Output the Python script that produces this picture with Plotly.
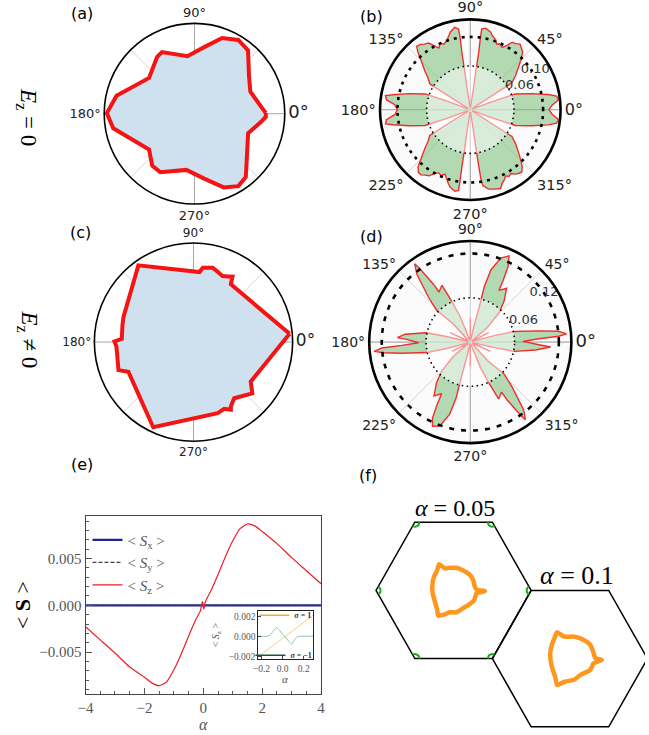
import plotly.graph_objects as go

W, H = 649, 735
def X(p): return p / W
def Y(p): return 1 - p / H

# ---------------- data ----------------
# (a) E_z = 0, normalised radius
a_theta = [0.5, 4, 21.6, 34.4, 49.8, 59.3, 70, 81.7, 97, 117.8, 123.3, 141.8, 167, 179.6, 190.2,
           218.2, 230.9, 239.7, 261.8, 278.5, 291.6, 301.2, 309, 340, 353, 357.4, 360.5]
a_r = [0.79, 0.757, 0.665, 0.732, 0.919, 0.95, 0.892, 0.745, 0.642, 0.772, 0.753, 0.64, 0.886, 0.971, 0.914,
       0.64, 0.742, 0.75, 0.629, 0.727, 0.878, 0.938, 0.903, 0.632, 0.743, 0.79, 0.79]

# (c) E_z != 0, normalised radius
c_theta = [4.9, 57.1, 58.5, 59.2, 62, 66.3, 70, 75.5, 80, 82.9, 85.1, 125.7, 160.5, 166.9, 177.4, 179.5,
           183, 186.2, 192.3, 200.5, 204.6, 244.7, 288.8, 294.7, 298.9, 300.1, 305.9, 318.9, 325.3, 364.9]
c_r = [0.973, 0.694, 0.74, 0.768, 0.75, 0.728, 0.745, 0.775, 0.762, 0.756, 0.709, 0.953, 0.75, 0.736, 0.724, 0.797,
       0.78, 0.778, 0.785, 0.808, 0.722, 0.951, 0.757, 0.741, 0.78, 0.751, 0.70, 0.787, 0.702, 0.973]

# (b) rose, E_z = 0
b_theta = [0, 3.2, 6.4, 8.9, 11, 14.7, 19.3, 20.5, 21.5,
           31.5, 32.8, 32.8, 37, 41.5, 45, 47.7, 52.8, 55.5, 58.2, 60.5, 63, 66, 68, 70, 73.4, 75.2, 79.3, 81.9, 82, 81.6, 81.9, 81.5, 84,
           96, 98.5, 98.2, 98.4, 98, 98.3, 100.8, 104.5, 106.5, 109, 112, 114.5, 117, 119.5, 122, 125, 127.5, 130.2, 132.5, 135.6, 139.5, 143.4, 147.5, 147.8, 148.5,
           158.5, 159.5, 160.7, 165.3, 169, 170.5, 173.2, 176.2, 180,
           183.8, 186.8, 189.5, 191, 194.7, 199.3, 200.5, 201.5,
           211.5, 212.2, 212.5, 216.6, 220.5, 224.4, 227.5, 230.5, 233, 235.5, 238, 241, 243.5, 246, 248.5, 251, 253.5, 255.5, 259.3, 261.7, 261.8, 261.6, 261.8, 261.5, 264,
           276, 278.5, 278.3, 278.5, 278.8, 279.5, 283, 287, 291, 293.5, 296, 298, 300, 302.5, 305, 307.5, 309.6, 312.3, 315, 318.5, 323, 327.2, 327.2, 328.5,
           338.5, 339.5, 340.7, 345.3, 349, 351.1, 353.6, 356.8, 360]
b_r = [0.108, 0.1125, 0.122, 0.120, 0.109, 0.087, 0.0655, 0.03, 0.004,
       0.004, 0.040, 0.068, 0.078, 0.0885, 0.099, 0.107, 0.113, 0.110, 0.109, 0.101, 0.096, 0.099, 0.097, 0.102, 0.106, 0.110, 0.114, 0.112, 0.100, 0.078, 0.055, 0.027, 0.004,
       0.004, 0.027, 0.055, 0.078, 0.100, 0.112, 0.115, 0.110, 0.105, 0.100, 0.097, 0.100, 0.095, 0.101, 0.108, 0.110, 0.113, 0.114, 0.106, 0.0935, 0.082, 0.072, 0.066, 0.040, 0.004,
       0.004, 0.03, 0.0655, 0.087, 0.108, 0.118, 0.116, 0.104, 0.100,
       0.104, 0.116, 0.118, 0.108, 0.087, 0.0655, 0.03, 0.004,
       0.004, 0.040, 0.066, 0.072, 0.082, 0.0935, 0.106, 0.112, 0.112, 0.109, 0.107, 0.100, 0.097, 0.099, 0.095, 0.100, 0.106, 0.110, 0.114, 0.112, 0.100, 0.078, 0.055, 0.027, 0.004,
       0.004, 0.027, 0.055, 0.078, 0.100, 0.106, 0.112, 0.114, 0.116, 0.110, 0.107, 0.103, 0.106, 0.104, 0.108, 0.110, 0.111, 0.106, 0.098, 0.0885, 0.078, 0.068, 0.040, 0.004,
       0.004, 0.03, 0.0655, 0.087, 0.109, 0.120, 0.122, 0.1125, 0.108]

# (d) rose, E_z != 0
d_theta = [-15, -13, -11.9, -6.9, -3.5, -2.2, 0.7, 2.75, 3.8, 4.9, 7, 9.3, 13.5, 15, 20,
           24, 27, 29,
           36, 40, 45.6, 50.5, 56, 61, 62, 63.5, 65.8, 70, 74, 75.8, 75.7, 77, 80,
           88, 90, 92,
           106, 111.8, 114.5, 116.5, 122, 122.5, 124.5, 125.4, 128.2, 133, 136.7, 132.9, 140,
           150, 155, 158,
           165, 167, 168.1, 173.1, 176.5, 177.8, 180.7, 182.75, 183.8, 185.5, 187, 189.3, 193.5, 195, 200,
           205, 207, 210,
           216, 220, 225.6, 230.5, 236, 241, 242, 243.5, 245.8, 250, 254, 255.8, 255.7, 257, 260,
           268, 270, 272,
           286, 291.8, 294.5, 296.5, 302, 302.5, 304.5, 305.4, 308.2, 313, 316.7, 312.9, 320,
           330, 335, 338,
           345]
d_r = [0.003, 0.035, 0.061, 0.089, 0.109, 0.093, 0.0714, 0.093, 0.120, 0.131, 0.120, 0.094, 0.061, 0.035, 0.003,
       0.004, 0.028, 0.004,
       0.004, 0.03, 0.056, 0.072, 0.088, 0.080, 0.095, 0.115, 0.128, 0.121, 0.102, 0.078, 0.0506, 0.02, 0.003,
       0.003, 0.033, 0.003,
       0.004, 0.038, 0.061, 0.086, 0.080, 0.093, 0.120, 0.130, 0.117, 0.083, 0.0625, 0.034, 0.004,
       0.004, 0.03, 0.004,
       0.003, 0.035, 0.061, 0.089, 0.099, 0.085, 0.070, 0.093, 0.120, 0.131, 0.118, 0.094, 0.061, 0.035, 0.003,
       0.004, 0.028, 0.004,
       0.004, 0.03, 0.056, 0.072, 0.088, 0.080, 0.095, 0.115, 0.125, 0.121, 0.102, 0.078, 0.0506, 0.02, 0.003,
       0.003, 0.033, 0.003,
       0.004, 0.038, 0.061, 0.086, 0.080, 0.093, 0.120, 0.129, 0.117, 0.083, 0.0625, 0.034, 0.004,
       0.004, 0.03, 0.004,
       0.003]

circ_theta = list(range(0, 361, 3))
b_rings = [0.06, 0.10]
d_rings = [0.06, 0.12]
main_axes_theta = [0, 180, None, 90, 270]
diag_axes_theta = [45, 225, None, 135, 315]

# (e) spin expectation values
alpha = [-4, -3.5, -3, -2.5, -2, -1.75, -1.5, -1.25, -1, -0.75, -0.5, -0.25, -0.1, -0.05, -0.02, 0.0,
         0.02, 0.05, 0.1, 0.25, 0.5, 0.75, 1, 1.25, 1.5, 1.75, 2, 2.5, 3, 3.5, 4]
sz = [-0.0023, -0.0037, -0.0051, -0.0066, -0.0077, -0.0083, -0.0086, -0.0082, -0.0069, -0.0052, -0.0033, -0.0015,
      -0.0006, 0.0002, 0.0004, -0.0002, -0.0004, 0.0002, 0.0006, 0.0015, 0.0033, 0.0052, 0.0069, 0.0082, 0.0087,
      0.0085, 0.0079, 0.0066, 0.0051, 0.0037, 0.0023]
alpha_flat = [-4, -2, 0, 2, 4]
sx = [0, 0, 0, 0, 0]
sy = [0, 0, 0, 0, 0]

ins_alpha_p = [-0.23, 0.29]
ins_sz_p = [-0.00205, 0.0021]
ins_alpha_m = [-0.23, -0.15, -0.12, -0.09, -0.056, -0.03, 0.0, 0.02, 0.05, 0.085, 0.11, 0.14, 0.17, 0.29]
ins_sz_m = [0, 0, 0.0001, 0.0005, 0.00085, 0.0006, 0.0002, 0.0, -0.0004, -0.00077, -0.0004, -0.00005, 0, 0]

# (f) Brillouin zones and Fermi contours (k-space units, BZ circumradius = 1)
hex1_x = [1, 0.5, -0.5, -1, -0.5, 0.5, 1]
hex1_y = [0, 0.866, 0.866, 0, -0.866, -0.866, 0]
hex2_x = [2.5, 2.0, 1.0, 0.5, 1.0, 2.0, 2.5]
hex2_y = [-0.866, 0, 0, -0.866, -1.732, -1.732, -0.866]
fs1_x = [-0.186, -0.114, -0.051, 0.034, 0.118, 0.203, 0.253, 0.274, 0.295, 0.405, 0.295, 0.266, 0.203, 0.118,
         0.034, -0.051, -0.114, -0.198, -0.211, -0.241, -0.270, -0.274, -0.253, -0.219, -0.186]
fs1_y = [0.333, 0.278, 0.287, 0.287, 0.257, 0.203, 0.131, 0.046, 0.008, -0.008, -0.038, -0.122, -0.177, -0.228,
         -0.278, -0.278, -0.304, -0.321, -0.249, -0.143, -0.038, 0.067, 0.173, 0.237, 0.333]
fs2_x = [1.333, 1.426, 1.553, 1.680, 1.763, 1.806, 1.827, 1.911, 1.806, 1.763, 1.637, 1.553, 1.447, 1.363,
         1.333, 1.308, 1.266, 1.245, 1.266, 1.300, 1.333]
fs2_y = [-0.532, -0.587, -0.587, -0.629, -0.692, -0.797, -0.861, -0.882, -0.924, -1.008, -1.072, -1.135, -1.156,
         -1.190, -1.198, -1.092, -0.966, -0.819, -0.692, -0.608, -0.532]
pocket_x = [0.97, 0.944, 0.944, 0.97, None, 0.44, 0.454, 0.490, 0.53, None, -0.53, -0.490, -0.454, -0.44, None,
            -0.97, -0.944, -0.944, -0.97, None, -0.44, -0.454, -0.490, -0.53, None, 0.53, 0.490, 0.454, 0.44]
pocket_y = [0.052, 0.021, -0.021, -0.052, None, 0.866, 0.827, 0.807, 0.814, None, 0.814, 0.807, 0.827, 0.866, None,
            -0.052, -0.021, 0.021, 0.052, None, -0.866, -0.827, -0.807, -0.814, None, -0.814, -0.807, -0.827, -0.866]

# ---------------- figure ----------------
fig = go.Figure()

RED = 'rgb(245,20,20)'
BLUEFILL = 'rgb(207,225,238)'

def guide(theta, rmax, color, sub):
    fig.add_trace(go.Scatterpolar(theta=theta, r=[rmax if t is not None else None for t in theta], mode='lines',
                                  line=dict(color=color, width=1), subplot=sub, showlegend=False, hoverinfo='skip'))

# (a)
guide(diag_axes_theta, 1.0, '#d6d6d6', 'polar')
fig.add_trace(go.Scatterpolar(theta=a_theta, r=a_r, mode='lines', fill='toself', fillcolor=BLUEFILL,
                              line=dict(color=RED, width=4), subplot='polar', showlegend=False))
# (c)
guide(diag_axes_theta, 1.0, '#d6d6d6', 'polar3')
fig.add_trace(go.Scatterpolar(theta=c_theta, r=c_r, mode='lines', fill='toself', fillcolor=BLUEFILL,
                              line=dict(color=RED, width=4), subplot='polar3', showlegend=False))

def rose(theta, r, rings, sub, rmax, dash_outer, label_pos):
    guide(main_axes_theta, rmax, '#a8a8a8', sub)
    fig.add_trace(go.Scatterpolar(theta=theta, r=r, mode='lines', fill='toself',
                                  fillcolor='rgba(120,190,120,0.55)',
                                  line=dict(color='rgb(240,45,45)', width=1.4), subplot=sub, showlegend=False))
    fig.add_trace(go.Scatterpolar(theta=circ_theta, r=[rings[0]] * len(circ_theta), mode='lines', fill='toself',
                                  fillcolor='rgba(255,255,255,0.5)', line=dict(width=0), subplot=sub,
                                  showlegend=False, hoverinfo='skip'))
    fig.add_trace(go.Scatterpolar(theta=circ_theta, r=[rings[0]] * len(circ_theta), mode='lines',
                                  line=dict(color='black', width=1.6, dash='1.5px,3.5px'), subplot=sub,
                                  showlegend=False, hoverinfo='skip'))
    fig.add_trace(go.Scatterpolar(theta=circ_theta, r=[rings[1]] * len(circ_theta), mode='lines',
                                  line=dict(color='black', width=2.6, dash=dash_outer), subplot=sub,
                                  showlegend=False, hoverinfo='skip'))
    fig.add_trace(go.Scatterpolar(theta=[p[0] for p in label_pos], r=[p[1] for p in label_pos], mode='text',
                                  text=['%.2f' % rings[0], '%.2f' % rings[1]],
                                  textfont=dict(family='DejaVu Sans', size=13, color='#333'),
                                  subplot=sub, showlegend=False, hoverinfo='skip'))

rose(b_theta, b_r, b_rings, 'polar2', 0.124, '3px,5px', [(25.6, 0.0749), (31.8, 0.105)])
rose(d_theta, d_r, d_rings, 'polar4', 0.137, '5px,7px', [(22, 0.0777), (33.7, 0.12)])

# (e)
fig.add_trace(go.Scatter(x=alpha_flat, y=sx, mode='lines', line=dict(color='rgb(35,35,140)', width=2.2),
                         name='&lt; <i>S</i><sub>x</sub> &gt;', xaxis='x', yaxis='y'))
fig.add_trace(go.Scatter(x=alpha_flat, y=sy, mode='lines', line=dict(color='#444', width=1.2, dash='4px,2px'),
                         name='&lt; <i>S</i><sub>y</sub> &gt;', xaxis='x', yaxis='y'))
fig.add_trace(go.Scatter(x=alpha, y=sz, mode='lines', line=dict(color='rgb(235,30,40)', width=1.2, shape='spline', smoothing=0.6),
                         name='&lt; <i>S</i><sub>z</sub> &gt;', xaxis='x', yaxis='y'))
# inset
fig.add_trace(go.Scatter(x=ins_alpha_p, y=ins_sz_p, mode='lines', line=dict(color='rgb(250,205,135)', width=1),
                         xaxis='x2', yaxis='y2', showlegend=False))
fig.add_trace(go.Scatter(x=ins_alpha_m, y=ins_sz_m, mode='lines', line=dict(color='rgb(140,195,170)', width=1, shape='spline'),
                         xaxis='x2', yaxis='y2', showlegend=False))
fig.add_trace(go.Scatter(x=[None], y=[None], mode='lines', line=dict(color='rgb(240,170,60)', width=1.5),
                         name='<b><i>σ</i> = 1</b>', xaxis='x2', yaxis='y2', legend='legend2'))
fig.add_trace(go.Scatter(x=[None], y=[None], mode='lines', line=dict(color='rgb(20,90,55)', width=1.5),
                         name='<b><i>σ</i> = −1</b>', xaxis='x2', yaxis='y2', legend='legend3'))

# (f)
for hx, hy in [(hex1_x, hex1_y), (hex2_x, hex2_y)]:
    fig.add_trace(go.Scatter(x=hx, y=hy, mode='lines', line=dict(color='black', width=1.5),
                             xaxis='x3', yaxis='y3', showlegend=False))
for fx, fy in [(fs1_x, fs1_y), (fs2_x, fs2_y)]:
    fig.add_trace(go.Scatter(x=fx, y=fy, mode='lines', line=dict(color='rgb(255,150,30)', width=4.5, shape='spline', smoothing=0.5),
                             xaxis='x3', yaxis='y3', showlegend=False))
fig.add_trace(go.Scatter(x=pocket_x, y=pocket_y, mode='lines', line=dict(color='rgb(30,170,30)', width=2),
                         xaxis='x3', yaxis='y3', showlegend=False))

# ---------------- layout ----------------
def polar_layout(cx, cy, rad, rmax, tickvals, ticktext, fsize, lw, bg, gridcolor):
    return dict(domain=dict(x=[X(cx - rad), X(cx + rad)], y=[Y(cy + rad), Y(cy - rad)]), bgcolor=bg,
                radialaxis=dict(visible=False, range=[0, rmax]),
                angularaxis=dict(rotation=0, direction='counterclockwise', tickmode='array', tickvals=tickvals,
                                 ticktext=ticktext, showline=True, linecolor='black', linewidth=lw,
                                 showgrid=True, gridcolor=gridcolor, gridwidth=1, ticks='', ticklen=0,
                                 tickfont=dict(family='DejaVu Sans', size=fsize, color='#222')))

def big(t, s):
    return '<span style="font-size:%dpx">%s</span>' % (s, t)

TV8 = [0, 45, 90, 135, 180, 225, 270, 315]
TV4 = [0, 90, 180, 270]
fig.update_layout(
    width=W, height=H, margin=dict(l=0, r=0, t=0, b=0),
    paper_bgcolor='white', plot_bgcolor='white',
    polar=polar_layout(190, 114, 92, 1.0, TV4, [big('0°', 18), '90°', '180°', '270°'], 13, 1.6, 'white', '#a8a8a8'),
    polar2=polar_layout(471, 110, 92, 0.124, TV8, [big('0°', 16), '45°', '90°', '135°', '180°', '225°', '270°', '315°'], 14.5, 2.6, 'rgb(251,251,251)', '#d6d6d6'),
    polar3=polar_layout(189, 343, 101, 1.0, TV4, [big('0°', 17), '90°', '180°', '270°'], 12, 1.6, 'white', '#a8a8a8'),
    polar4=polar_layout(471, 343, 103, 0.137, TV8, [big('0°', 18), '45°', '90°', '135°', '180°', '225°', '270°', '315°'], 14, 2.6, 'rgb(251,251,251)', '#d6d6d6'),
    xaxis=dict(domain=[X(79), X(319)], anchor='y', range=[-4, 4], tickvals=[-4, -2, 0, 2, 4],
               ticks='inside', ticklen=6, tickcolor='#555', showline=True, mirror=True, linecolor='#444',
               linewidth=1, showgrid=False, zeroline=False,
               minor=dict(dtick=0.5, ticks='inside', ticklen=3, tickcolor='#555'),
               tickfont=dict(family='Liberation Serif', size=15, color='#555')),
    yaxis=dict(domain=[Y(696), Y(517)], anchor='x', range=[-0.0095, 0.0096], tickvals=[-0.005, 0, 0.005],
               tickformat='.3f', ticks='inside', ticklen=6, tickcolor='#555', showline=True, mirror=True,
               linecolor='#444', linewidth=1, showgrid=False, zeroline=False,
               minor=dict(dtick=0.001, ticks='inside', ticklen=3, tickcolor='#555'),
               tickfont=dict(family='Liberation Serif', size=15, color='#555')),
    xaxis2=dict(domain=[X(255), X(311)], anchor='y2', range=[-0.23, 0.29], tickvals=[-0.2, 0, 0.2],
                tickformat='.1f', ticks='inside', ticklen=3, showline=True, mirror=True, linecolor='#222',
                linewidth=1, showgrid=False, zeroline=False,
                tickfont=dict(family='Liberation Serif', size=9.5, color='#555')),
    yaxis2=dict(domain=[Y(661), Y(613)], anchor='x2', range=[-0.0023, 0.0025], tickvals=[-0.002, 0, 0.002],
                tickformat='.3f', ticks='inside', ticklen=3, showline=True, mirror=True, linecolor='#222',
                linewidth=1, showgrid=False, zeroline=False,
                tickfont=dict(family='Liberation Serif', size=9.5, color='#555')),
    xaxis3=dict(domain=[X(335), 1], anchor='y3', range=[-1.506, 2.468], visible=False),
    yaxis3=dict(domain=[0, Y(495)], anchor='x3', range=[-1.81, 1.228], visible=False),
    legend=dict(x=X(81), y=Y(525), xanchor='left', yanchor='top', bgcolor='rgba(0,0,0,0)',
                font=dict(family='Liberation Serif', size=15, color='#555'), itemwidth=30, tracegroupgap=0),
    legend2=dict(x=X(251), y=Y(617), xanchor='left', yanchor='middle', bgcolor='rgba(0,0,0,0)',
                 font=dict(family='Liberation Serif', size=8, color='#333'), itemwidth=30),
    legend3=dict(x=X(247), y=Y(657), xanchor='left', yanchor='middle', bgcolor='rgba(0,0,0,0)',
                 font=dict(family='Liberation Serif', size=8, color='#333'), itemwidth=30),
)

ann = []
def add_text(x, y, text, size, family='DejaVu Sans', color='black', angle=0, height=None):
    d = dict(x=X(x), y=Y(y), xref='paper', yref='paper', text=text, showarrow=False,
             font=dict(family=family, size=size, color=color), textangle=angle,
             xanchor='center', yanchor='middle')
    if height:
        d['height'] = height
    ann.append(d)

add_text(75, 14, '(a)', 16)
add_text(370, 17, '(b)', 16)
add_text(74, 233, '(c)', 16)
add_text(370, 237, '(d)', 16)
add_text(75, 466, '(e)', 16)
add_text(367, 477, '(f)', 16)
add_text(20, 117, '<i>E</i><sub>z</sub> = 0', 23, 'Liberation Serif', 'black', 90)
add_text(20, 340, '<i>E</i><sub>z</sub> ≠ 0', 23, 'Liberation Serif', 'black', 90)
add_text(15, 607, '&lt; <b>S</b> &gt;', 22, 'Liberation Serif', 'black', -90)
add_text(199, 726, '<i>α</i>', 16, 'Liberation Serif', '#555', 0, 14)
add_text(282, 681, '<i>α</i>', 11, 'Liberation Serif', '#555')
add_text(212, 637, '&lt; <i>S</i><sub>z</sub> &gt;', 10, 'Liberation Serif', '#555', -90)
add_text(455, 509, '<i>α</i> = 0.05', 24, 'Liberation Serif')
add_text(580, 577, '<i>α</i> = 0.1', 26, 'Liberation Serif')
fig.update_layout(annotations=ann)

fig.write_html('out.html', config={'displayModeBar': False},
               post_script="document.body.style.margin='0px';document.body.style.padding='0px';document.body.style.overflow='hidden';")
